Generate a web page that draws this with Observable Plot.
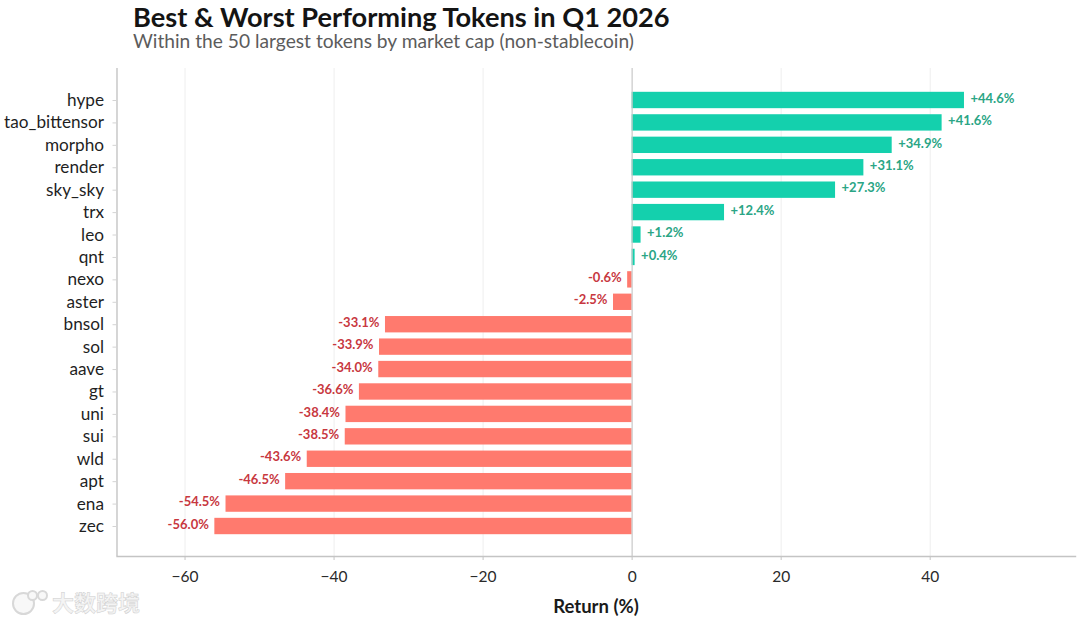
<!DOCTYPE html>
<html><head><meta charset="utf-8">
<script src="https://cdn.jsdelivr.net/npm/d3@7"></script>
<script src="https://cdn.jsdelivr.net/npm/@observablehq/plot@0.6"></script>
<style>
html,body{margin:0;padding:0;background:#fff;width:1080px;height:622px;overflow:hidden;position:relative}
body{font-family:Lato,"Noto Sans",sans-serif}
#t{position:absolute;left:133px;top:3px;font-size:27.2px;font-weight:700;color:#141414;line-height:28px;white-space:nowrap}
#s{position:absolute;left:133px;top:31px;font-size:19.2px;color:#5c5c5c;line-height:20px;white-space:nowrap}
#w{position:absolute;left:52px;top:587px;font-family:"Noto Sans CJK SC";font-size:22px;font-weight:700;color:#f4f4f4;-webkit-text-stroke:.5px #cfcfcf;line-height:28px}
#c{position:absolute;left:0;top:64px}
.r{position:absolute;border:2px solid #d8d8d8;border-radius:50%;box-sizing:border-box;background:#f8f8f8}
#lab{position:absolute;left:496px;width:200px;text-align:center;top:595px;font-size:18.5px;font-weight:700;color:#1a1a1a;line-height:22px}
</style></head><body>
<div id="t">Best &amp; Worst Performing Tokens in Q1 2026</div>
<div id="s">Within the 50 largest tokens by market cap (non-stablecoin)</div>
<div id="c"></div>
<div class="r" style="left:12px;top:592px;width:23px;height:23px"></div>
<div class="r" style="left:27px;top:590px;width:11px;height:11px"></div>
<div class="r" style="left:37px;top:590px;width:11px;height:11px"></div>
<div id="w">大数跨境</div>
<div id="lab">Return (%)</div>
<script>
const tokens = ["hype","tao_bittensor","morpho","render","sky_sky","trx","leo","qnt","nexo","aster","bnsol","sol","aave","gt","uni","sui","wld","apt","ena","zec"];
const returns = [44.6,41.6,34.9,31.1,27.3,12.4,1.2,0.4,-0.6,-2.5,-33.1,-33.9,-34.0,-36.6,-38.4,-38.5,-43.6,-46.5,-54.5,-56.0];
const xTicks = [-60,-40,-20,0,20,40];
const rows = tokens.map((token,i)=>({token,value:returns[i]}));
const fmt = v => (v>0?"+":"-")+Math.abs(v).toFixed(1)+"%";
const pos = rows.filter(d=>d.value>=0), neg = rows.filter(d=>d.value<0);
const font = "Lato, 'Noto Sans', sans-serif";
const xMin = -69.13;
const chart = Plot.plot({
  width:1080, height:558,
  marginLeft:116.5, marginRight:5, marginTop:4, marginBottom:66,
  style:{fontFamily:font, background:"transparent", overflow:"visible"},
  x:{domain:[xMin,59.5], label:null, axis:null},
  y:{domain:tokens, padding:0.27, align:0.5, round:false, label:null, axis:null, range:[21.75,476.25]},
  marks:[
    Plot.ruleX(xTicks.filter(d=>d!==0),{stroke:"#eeeeee",strokeWidth:1}),
    Plot.barX(pos,{x1:0,x2:"value",y:"token",fill:"#14d0ad"}),
    Plot.barX(neg,{x1:0,x2:"value",y:"token",fill:"#ff7a6e"}),
    Plot.ruleX([0],{stroke:"#c8c8c8",strokeWidth:1.2}),
    Plot.ruleX([xMin],{stroke:"#c4c4c4",strokeWidth:1.4}),
    Plot.frame({anchor:"bottom",stroke:"#c4c4c4",strokeWidth:1.4}),
    Plot.axisX({ticks:xTicks,anchor:"bottom",tickSize:4,tickPadding:10,fontSize:15.5,stroke:"#c4c4c4",fill:"#2a2a2a",label:null,tickFormat:d=>d<0?"−"+(-d):""+d}),
    Plot.axisY({anchor:"left",tickSize:4,tickPadding:9,fontSize:17.2,stroke:"#d4d4d4",fill:"#1f1f1f",label:null}),
    Plot.text(pos,{x:"value",y:"token",text:d=>fmt(d.value),dx:6,dy:-2,textAnchor:"start",fill:"#2aa585",fontSize:13,fontWeight:700}),
    Plot.text(neg,{x:"value",y:"token",text:d=>fmt(d.value),dx:-6,dy:-2,textAnchor:"end",fill:"#c8383f",fontSize:13,fontWeight:700})
  ]
});
document.getElementById("c").appendChild(chart);
</script>
</body></html>
